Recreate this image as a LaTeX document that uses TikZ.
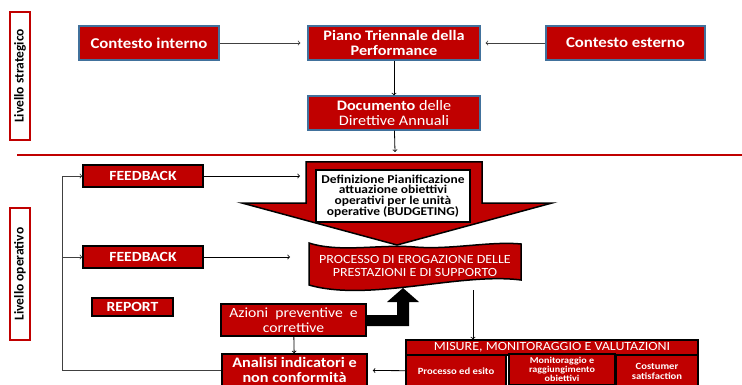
\documentclass[tikz,border=0pt]{standalone}
\usepackage{fontspec}
\setmainfont[FakeStretch=1.12]{Carlito}
\newfontfamily\levelfont{Carlito}
\definecolor{boxred}{HTML}{C00000}
\definecolor{edgeblue}{HTML}{41719C}
\tikzset{
  topbox/.style={draw=edgeblue, line width=1.2pt, fill=boxred, text=white, font=\bfseries\fontsize{15}{15}\selectfont, align=center, inner sep=1pt},
  lowbox/.style={draw=black, line width=1.5pt, fill=boxred, text=white, align=center, inner sep=1pt},
  levelbox/.style={draw=boxred, line width=1.5pt, fill=white, rotate=90, font=\levelfont\bfseries\fontsize{13.5}{14}\selectfont, inner sep=1pt},
  cell/.style={draw=black, line width=1.2pt, fill=boxred, text=white, align=center, inner sep=0pt, font=\bfseries\fontsize{9.5}{10}\selectfont}
}
\begin{document}
\begin{tikzpicture}[x=1pt, y=-1pt, >=to, line width=0.8pt]
				\useasboundingbox (0,0) rectangle (742,385);
				\node[levelbox, minimum width=128, minimum height=20] (strat) at (20,76) {Livello strategico};
				\node[topbox, minimum width=140, minimum height=34] (cint) at (149,43) {Contesto interno};
				\node[topbox, minimum width=172, minimum height=34, font=\bfseries\fontsize{14.5}{15}\selectfont] (piano) at (394,43) {Piano Triennale della\\Performance};
				\node[topbox, minimum width=159, minimum height=34] (cest) at (625.5,43) {Contesto esterno};
				\node[topbox, minimum width=172, minimum height=34, font=\fontsize{14.5}{15}\selectfont] (doc) at (394,113) {\textbf{Documento} delle\\Direttive Annuali};
				\coordinate (sepl) at (17,155);
				\coordinate (sepr) at (742,155);
				\draw[boxred, line width=2pt] (sepl) -- (sepr);
				\coordinate (docin) at (395,152);
				\draw[->, draw=black!75, shorten >=7pt] (cint) to (piano);
				\draw[->, draw=black!75, shorten >=5pt] (cest) to (piano);
				\draw[->] (piano) to (doc);
				\draw[->] (doc) to (docin);
				\node[levelbox, minimum width=132, minimum height=20] (oper) at (20,274) {Livello operativo};
				\node[lowbox, minimum width=120, minimum height=22, font=\bfseries\fontsize{14}{14}\selectfont] (fb1) at (143,176) {FEEDBACK};
				\node[lowbox, minimum width=120, minimum height=22, font=\bfseries\fontsize{14}{14}\selectfont] (fb2) at (143,257) {FEEDBACK};
				\node[lowbox, minimum width=81, minimum height=18, font=\bfseries\fontsize{14}{14}\selectfont] (report) at (132.5,307) {REPORT};
				\filldraw[fill=boxred, draw=black, line width=1.5pt] (306,162) -- (482,162) -- (482,203) -- (552,203) -- (397,245) -- (242,203) -- (306,203) -- cycle;
				\node[draw=black, line width=1.2pt, fill=white, minimum width=154, minimum height=52, align=center, inner sep=0pt, font=\bfseries\fontsize{12}{10.8}\selectfont] (budget) at (393,196) {Definizione Pianificazione\\attuazione obiettivi\\operativi per le unità\\operative (BUDGETING)};
				\filldraw[fill=boxred, draw=black, line width=1.5pt] (309,243) .. controls (340,253) and (380,244) .. (415,247) .. controls (450,250) and (490,241) .. (521,244) -- (521,280) .. controls (490,276) and (450,282) .. (415,286) .. controls (380,290) and (340,294) .. (309,285) -- cycle;
				\node[text=white, align=center, font=\fontsize{12.5}{13.5}\selectfont] (proc) at (415,266) {PROCESSO DI EROGAZIONE DELLE\\PRESTAZIONI E DI SUPPORTO};
				\coordinate (bigin) at (300,176);
				\coordinate (procin) at (290,257);
				\draw[->] (fb1) to (bigin);
				\draw[->] (fb2) to (procin);
				\node[lowbox, minimum width=145, minimum height=32, font=\fontsize{14}{15}\selectfont] (azioni) at (293.5,320) {Azioni\ \ preventive\ \ e\\correttive};
				\node[lowbox, minimum width=145, minimum height=32, font=\bfseries\fontsize{14.5}{15}\selectfont] (analisi) at (294.5,370) {Analisi indicatori e\\non conformità};
				\fill[black] (366,315) -- (397,315) -- (397,302) -- (387,302) -- (403,288) -- (419,302) -- (409,302) -- (409,326) -- (366,326) -- cycle;
				\draw[->] (azioni) to (analisi);
				\node[cell, minimum width=292, minimum height=15, font=\fontsize{12.5}{12.5}\selectfont] (misure) at (552,347.5) {MISURE, MONITORAGGIO E VALUTAZIONI};
				\node[cell, minimum width=100, minimum height=31] (esito) at (456,371) {Processo ed esito};
				\node[cell, minimum width=106, minimum height=31, font=\bfseries\fontsize{9}{8.8}\selectfont] (obiet) at (562,369.5) {Monitoraggio e\\raggiungimento\\obiettivi};
				\node[cell, minimum width=82, minimum height=31] (custom) at (657,371) {Costumer\\satisfaction};
				\coordinate (procout) at (473,290);
				\draw[->] (procout) to (procout |- misure.north);
				\draw[->, shorten >=5pt] (esito) to (analisi);
				\coordinate (loop) at (62,370);
				\draw[->, draw=black!75] (analisi.west) -- (loop) |- (fb1.west);
				\draw[->, draw=black!75] (loop |- fb2) to (fb2.west);
			\end{tikzpicture}
\end{document}
